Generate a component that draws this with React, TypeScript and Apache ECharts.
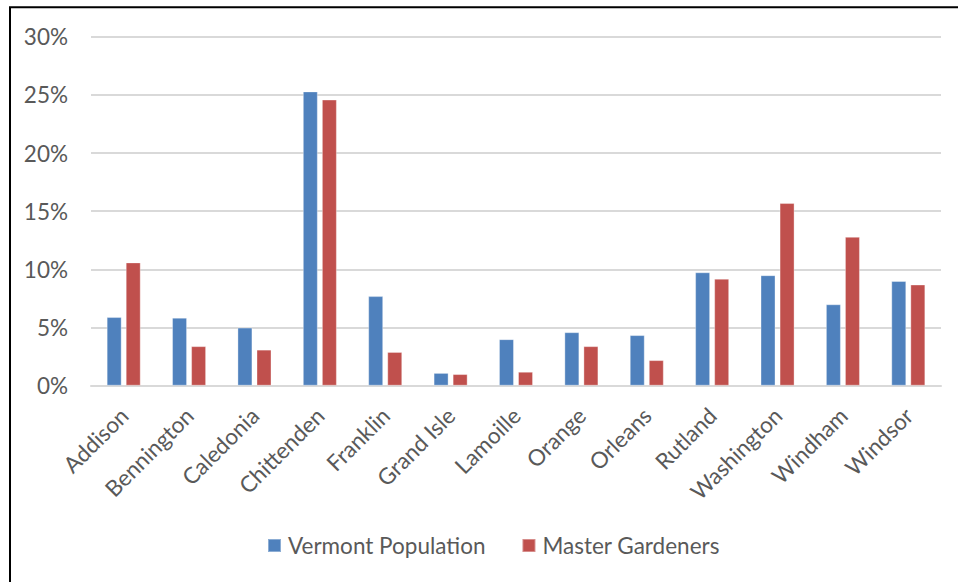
import React, { useEffect, useRef } from "react";
import * as echarts from "echarts";

const counties = [
  "Addison", "Bennington", "Caledonia", "Chittenden", "Franklin", "Grand Isle",
  "Lamoille", "Orange", "Orleans", "Rutland", "Washington", "Windham", "Windsor",
];

// Share of each county, in percent
const vermontPopulation = [5.9, 5.85, 5.0, 25.3, 7.7, 1.1, 4.0, 4.6, 4.35, 9.75, 9.5, 7.0, 9.0];
const masterGardeners = [10.6, 3.4, 3.1, 24.6, 2.9, 1.0, 1.2, 3.4, 2.2, 9.2, 15.7, 12.8, 8.7];

const seriesNames = ["Vermont Population", "Master Gardeners"];
const seriesColors = ["#4F81BD", "#C0504D"];

const FONT = "Lato, 'Liberation Sans', sans-serif";
const TEXT_COLOR = "#595959";
const GRID_COLOR = "#D9D9D9";

export default function App() {
  const ref = useRef<HTMLDivElement>(null);

  useEffect(() => {
    if (!ref.current) return;
    const chart = echarts.init(ref.current, null, { renderer: "svg" });
    chart.setOption({
      animation: false,
      backgroundColor: "#ffffff",
      textStyle: { fontFamily: FONT },
      grid: { left: 91, right: 17, top: 36.7, height: 349, containLabel: false },
      legend: {
        left: 262,
        top: 529,
        itemWidth: 13,
        itemHeight: 13,
        itemGap: 36,
        icon: "rect",
        textStyle: { fontFamily: FONT, fontSize: 22.5, color: TEXT_COLOR, padding: [0, 0, 0, 2] },
        data: seriesNames,
      },
      xAxis: {
        type: "category",
        data: counties,
        axisTick: { show: false },
        axisLine: { lineStyle: { color: GRID_COLOR, width: 2 } },
        axisLabel: {
          interval: 0,
          rotate: 45,
          margin: 10,
          padding: [0, 11, 0, 0],
          verticalAlign: "top",
          fontFamily: FONT,
          fontSize: 22.5,
          color: TEXT_COLOR,
        },
      },
      yAxis: {
        type: "value",
        min: 0,
        max: 30,
        interval: 5,
        axisLine: { show: false },
        axisTick: { show: false },
        splitLine: { lineStyle: { color: GRID_COLOR, width: 2 } },
        axisLabel: {
          margin: 23,
          fontFamily: FONT,
          fontSize: 22.5,
          color: TEXT_COLOR,
          formatter: (v: number) => `${v}%`,
        },
      },
      series: [
        {
          name: seriesNames[0],
          type: "bar",
          data: vermontPopulation,
          barWidth: 15,
          barGap: "27%",
          itemStyle: { color: seriesColors[0], borderColor: "rgba(255,255,255,0.35)", borderWidth: 1 },
        },
        {
          name: seriesNames[1],
          type: "bar",
          data: masterGardeners,
          barWidth: 15,
          barGap: "27%",
          itemStyle: { color: seriesColors[1], borderColor: "rgba(255,255,255,0.35)", borderWidth: 1 },
        },
      ],
      graphic: [
        {
          type: "rect",
          shape: { x: 10, y: 7.2, width: 1000, height: 1000 },
          style: { fill: "none", stroke: "#000000", lineWidth: 2 },
          silent: true,
        },
      ],
    });
    return () => chart.dispose();
  }, []);

  return (
    <div
      ref={ref}
      style={{ position: "absolute", left: 0, top: 0, width: 958, height: 582 }}
    />
  );
}
